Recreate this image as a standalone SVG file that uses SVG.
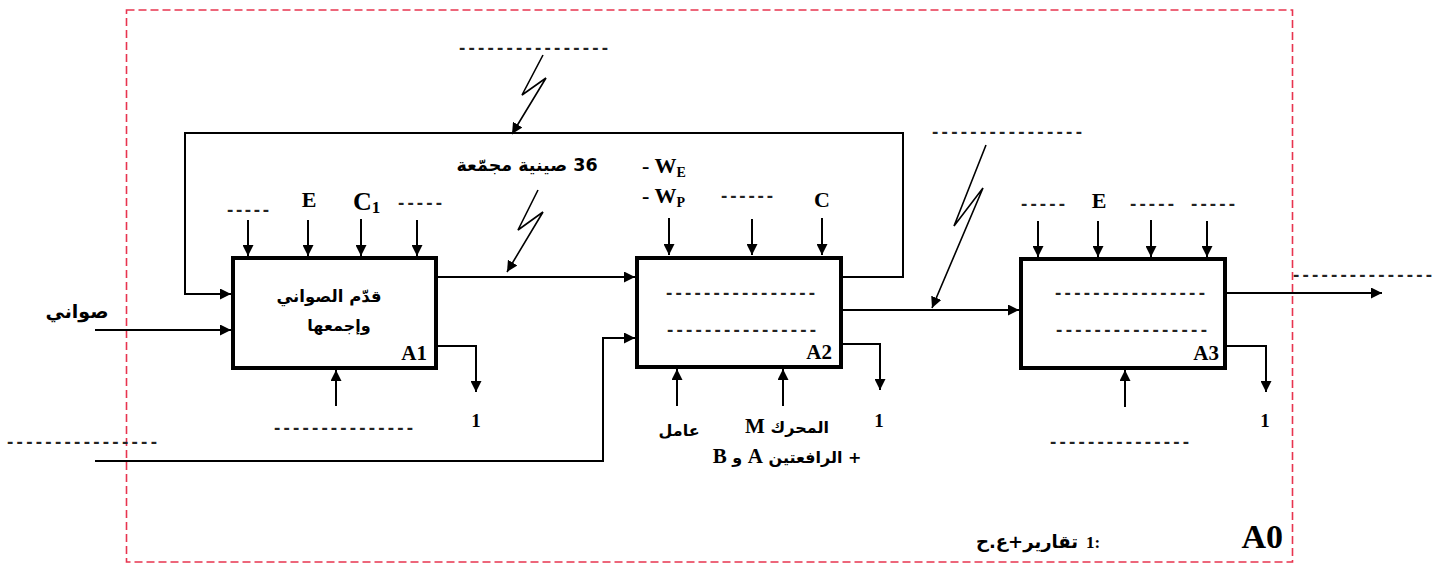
<svg xmlns="http://www.w3.org/2000/svg" width="1442" height="568" viewBox="0 0 1442 568">
<style>
.box{fill:#fff;stroke:#000;stroke-width:4}
.ln{fill:none;stroke:#000;stroke-width:2}
.zz{fill:none;stroke:#000;stroke-width:1.6}
.lat{font-family:"Liberation Serif","Times New Roman",serif;font-weight:bold;fill:#000}
.ar{font-family:"DejaVu Sans","Noto Sans",sans-serif;font-weight:bold;fill:#000;direction:rtl;unicode-bidi:embed;text-anchor:middle}
.dash{font-family:"Liberation Sans",Arial,sans-serif;font-weight:bold;font-size:19px;fill:#222}
.frame{fill:none;stroke:#e8344f;stroke-width:1.6;stroke-dasharray:8 4}
</style>
<defs>
<marker id="ah" markerUnits="userSpaceOnUse" markerWidth="12" markerHeight="11" refX="11" refY="5.5" orient="auto">
<path d="M0,0 L11,5.5 L0,11 z" fill="#000"/>
</marker>
</defs>
<rect width="1442" height="568" fill="#fff"/>
<rect class="frame" x="126.5" y="10" width="1166" height="552"/>

<g id="connectors">
<path class="ln" d="M842,277 H903 V133 H185 V294 H231" marker-end="url(#ah)"/>
<path class="ln" d="M437,277 H635" marker-end="url(#ah)"/>
<path class="ln" d="M95,330 H231" marker-end="url(#ah)"/>
<path class="ln" d="M95,461 H603 V338 H635" marker-end="url(#ah)"/>
<path class="ln" d="M437,346 H476 V392" marker-end="url(#ah)"/>
<path class="ln" d="M336,406 V370" marker-end="url(#ah)"/>
<path class="ln" d="M248,220 V256" marker-end="url(#ah)"/>
<path class="ln" d="M308,220 V256" marker-end="url(#ah)"/>
<path class="ln" d="M361,219 V256" marker-end="url(#ah)"/>
<path class="ln" d="M417,220 V256" marker-end="url(#ah)"/>
<path class="ln" d="M669,218 V255" marker-end="url(#ah)"/>
<path class="ln" d="M752,219 V255" marker-end="url(#ah)"/>
<path class="ln" d="M822,218 V255" marker-end="url(#ah)"/>
<path class="ln" d="M677,406 V369" marker-end="url(#ah)"/>
<path class="ln" d="M783,406 V369" marker-end="url(#ah)"/>
<path class="ln" d="M842,344 H880 V390" marker-end="url(#ah)"/>
<path class="ln" d="M842,310 H1019" marker-end="url(#ah)"/>
<path class="ln" d="M1038,221 V257" marker-end="url(#ah)"/>
<path class="ln" d="M1098,221 V257" marker-end="url(#ah)"/>
<path class="ln" d="M1151,220 V257" marker-end="url(#ah)"/>
<path class="ln" d="M1207,221 V257" marker-end="url(#ah)"/>
<path class="ln" d="M1125,407 V370" marker-end="url(#ah)"/>
<path class="ln" d="M1226,346 H1266 V392" marker-end="url(#ah)"/>
<path class="ln" d="M1226,293 H1382" marker-end="url(#ah)"/>
<path class="zz" d="M543,55 L522,95 L546,78 L512,134" marker-end="url(#ah)"/>
<path class="zz" d="M538,190 L518,230 L543,212 L507,272" marker-end="url(#ah)"/>
<path class="zz" d="M986,145 L954,226 L983,188 L932,308" marker-end="url(#ah)"/>
</g>

<g id="A1">
<rect class="box" x="233" y="258" width="203" height="110"/>
<text class="ar" x="329" y="302" font-size="16.5">قدّم الصواني</text>
<text class="ar" x="339" y="331" font-size="16">وإجمعها</text>
<text class="lat" x="427" y="360" font-size="21" text-anchor="end">A1</text>
</g>

<g id="A2">
<rect class="box" x="637" y="258" width="204" height="109"/>
<text class="dash" x="666" y="299" textLength="149" lengthAdjust="spacing">----------------</text>
<text class="dash" x="667" y="336" textLength="149" lengthAdjust="spacing">----------------</text>
<text class="lat" x="832" y="359" font-size="21" text-anchor="end">A2</text>
</g>

<g id="A3">
<rect class="box" x="1021" y="259" width="204" height="109"/>
<text class="dash" x="1055" y="299" textLength="150" lengthAdjust="spacing">----------------</text>
<text class="dash" x="1056" y="336" textLength="151" lengthAdjust="spacing">----------------</text>
<text class="lat" x="1219" y="360" font-size="21" text-anchor="end">A3</text>
</g>

<g id="labels">
<text class="ar" x="77" y="318" font-size="19">صواني</text>
<text class="dash" x="227" y="216" textLength="42" lengthAdjust="spacing">-----</text>
<text class="lat" x="309" y="207" font-size="22" text-anchor="middle">E</text>
<text class="lat" x="353" y="210" font-size="26">C<tspan font-size="17" dy="3">1</tspan></text>
<text class="dash" x="398" y="209" textLength="44" lengthAdjust="spacing">-----</text>
<text class="dash" x="459" y="54" textLength="149" lengthAdjust="spacing">----------------</text>
<text class="ar" x="527" y="171" font-size="17.5">36 صينية مجمّعة</text>
<text class="lat" x="642" y="173" font-size="22">- W<tspan font-size="14" dy="4">E</tspan></text>
<text class="lat" x="642" y="203" font-size="22">- W<tspan font-size="14" dy="4">P</tspan></text>
<text class="dash" x="721" y="202" textLength="52" lengthAdjust="spacing">------</text>
<text class="lat" x="822" y="207" font-size="22" text-anchor="middle">C</text>
<text class="dash" x="274" y="434" textLength="139" lengthAdjust="spacing">---------------</text>
<text class="lat" x="476" y="427" font-size="19" text-anchor="middle">1</text>
<text class="dash" x="7" y="448" textLength="150" lengthAdjust="spacing">----------------</text>
<text class="ar" x="679" y="436" font-size="16">عامل</text>
<text class="ar" x="787" y="433" font-size="16">المحرك <tspan class="lat" font-size="21">M</tspan></text>
<text class="ar" x="787" y="463" font-size="16">+ الرافعتين <tspan class="lat" font-size="21">A</tspan> و <tspan class="lat" font-size="21">B</tspan></text>
<text class="lat" x="879" y="427" font-size="19" text-anchor="middle">1</text>
<text class="dash" x="932" y="138" textLength="150" lengthAdjust="spacing">----------------</text>
<text class="dash" x="1021" y="210" textLength="44" lengthAdjust="spacing">-----</text>
<text class="lat" x="1099" y="208" font-size="22" text-anchor="middle">E</text>
<text class="dash" x="1130" y="210" textLength="44" lengthAdjust="spacing">-----</text>
<text class="dash" x="1191" y="210" textLength="44" lengthAdjust="spacing">-----</text>
<text class="dash" x="1050" y="448" textLength="139" lengthAdjust="spacing">---------------</text>
<text class="lat" x="1265" y="427" font-size="19" text-anchor="middle">1</text>
<text class="dash" x="1293" y="281" textLength="139" lengthAdjust="spacing">---------------</text>
<text class="ar" x="1027" y="548" font-size="18">تقارير+ع.ح</text>
<text class="lat" x="1086" y="548" font-size="17">1:</text>
<text class="lat" x="1283" y="548" font-size="34" text-anchor="end">A0</text>
</g>
</svg>
